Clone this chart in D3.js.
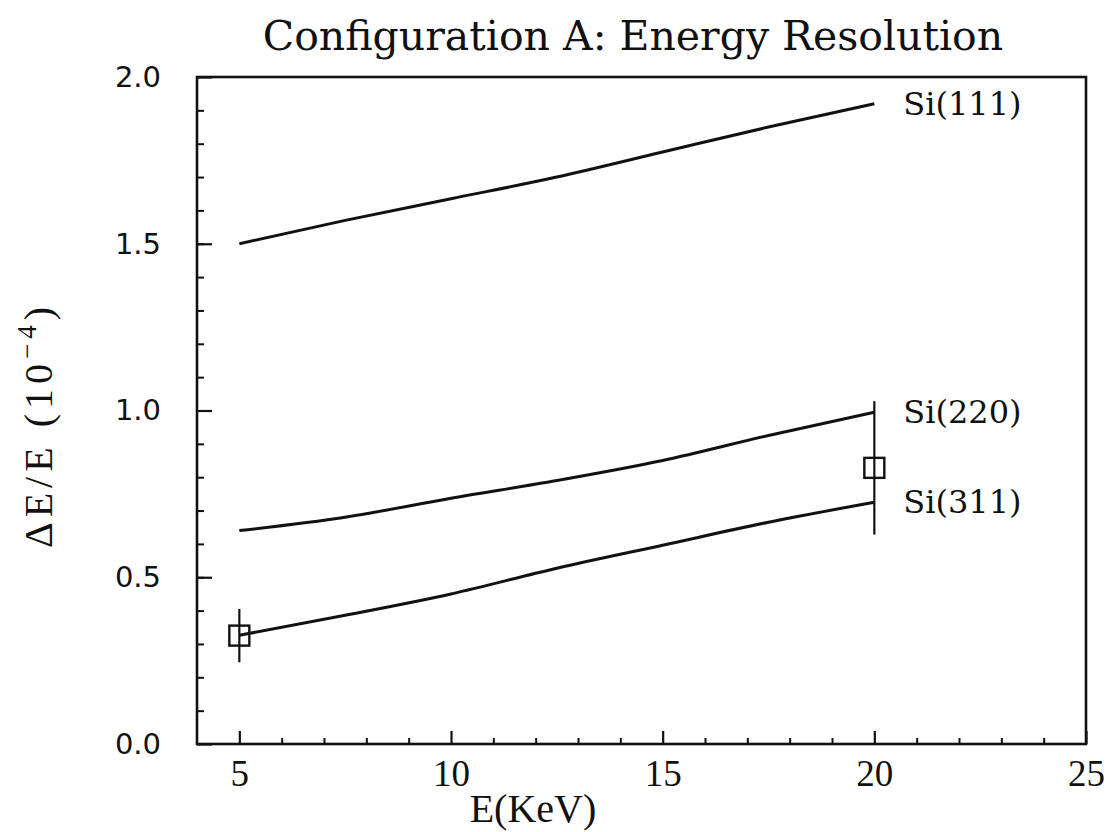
<!DOCTYPE html>
<html>
<head>
<meta charset="utf-8">
<script src="https://cdn.jsdelivr.net/npm/d3@7"></script>
<style>
  body { margin: 0; background: #fff; }
  svg text { fill: #111; }
</style>
</head>
<body>
<div id="chart"></div>
<script>
var energies = [5, 7.5, 10, 12.5, 15, 17.5, 20];
var si111 = [1.50, 1.57, 1.635, 1.70, 1.775, 1.85, 1.92];
var si220 = [0.64, 0.68, 0.737, 0.79, 0.85, 0.925, 0.995];
var si311 = [0.326, 0.386, 0.45, 0.527, 0.596, 0.665, 0.725];
var seriesNames = ["Si(111)", "Si(220)", "Si(311)"];

// measured points with error bars
var measE = [5, 20];
var measRes = [0.325, 0.828];
var measErr = [0.08, 0.2];

var xTicks = [5, 10, 15, 20, 25];
var yTicks = [0.0, 0.5, 1.0, 1.5, 2.0];

var width = 1113, height = 832;

var svg = d3.select("#chart").append("svg")
    .attr("width", width)
    .attr("height", height);

var x = d3.scaleLinear().domain([4, 25]).range([197, 1086]);
var y = d3.scaleLinear().domain([0, 2]).range([744, 77]);

// title
svg.append("text")
    .attr("x", 633)
    .attr("y", 50)
    .attr("text-anchor", "middle")
    .style("font-family", "DejaVu Serif")
    .style("font-size", "41px")
    .text("Configuration A: Energy Resolution");

// minor ticks
svg.append("g")
    .attr("transform", "translate(" + x(4) + ",0)")
    .call(d3.axisLeft(y).tickValues(d3.range(1, 20).map(d => d / 10)).tickSize(-7).tickFormat(""))
    .call(g => g.select(".domain").remove())
    .selectAll("line").attr("stroke", "#111").attr("stroke-width", 2);

svg.append("g")
    .attr("transform", "translate(0," + y(0) + ")")
    .call(d3.axisBottom(x).tickValues(d3.range(5, 25).filter(d => d % 5 != 0)).tickSize(-6).tickFormat(""))
    .call(g => g.select(".domain").remove())
    .selectAll("line").attr("stroke", "#111").attr("stroke-width", 2);

// major ticks + labels
var yAxis = svg.append("g")
    .attr("transform", "translate(" + x(4) + ",0)")
    .call(d3.axisLeft(y).tickValues(yTicks).tickSize(-15).tickPadding(36).tickFormat(d3.format(".1f")))
    .call(g => g.select(".domain").remove());
yAxis.selectAll("line").attr("stroke", "#111").attr("stroke-width", 2.2);
yAxis.selectAll("text")
    .style("font-family", "DejaVu Sans")
    .style("font-size", "29px")
    .attr("fill", "#111");

var xAxis = svg.append("g")
    .attr("transform", "translate(0," + y(0) + ")")
    .call(d3.axisBottom(x).tickValues(xTicks).tickSize(-13).tickPadding(16).tickFormat(d3.format("d")))
    .call(g => g.select(".domain").remove());
xAxis.selectAll("line").attr("stroke", "#111").attr("stroke-width", 2.2);
xAxis.selectAll("text")
    .style("font-family", "Liberation Serif")
    .style("font-size", "37px")
    .attr("fill", "#111");

// frame
svg.append("rect")
    .attr("x", x(4))
    .attr("y", y(2))
    .attr("width", x(25) - x(4))
    .attr("height", y(0) - y(2))
    .attr("fill", "none")
    .attr("stroke", "#111")
    .attr("stroke-width", 2.6);

// axis titles
svg.append("text")
    .attr("x", 533)
    .attr("y", 822)
    .attr("text-anchor", "middle")
    .style("font-family", "Liberation Serif")
    .style("font-size", "40px")
    .text("E(KeV)");

var yTitle = svg.append("text")
    .attr("transform", "translate(52,425) rotate(-90)")
    .attr("text-anchor", "middle")
    .style("font-family", "Liberation Serif")
    .style("font-size", "40px")
    .style("letter-spacing", "5px");
yTitle.append("tspan").text("\u0394E/E (10");
yTitle.append("tspan").attr("dy", -16).style("font-size", "27px").text("\u22124");
yTitle.append("tspan").attr("dy", 16).text(")");

// curves
var line = d3.line()
    .x((d, i) => x(energies[i]))
    .y(d => y(d))
    .curve(d3.curveMonotoneX);

var allSeries = [si111, si220, si311];
svg.selectAll(".curve")
    .data(allSeries)
    .enter().append("path")
    .attr("class", "curve")
    .attr("d", line)
    .attr("fill", "none")
    .attr("stroke", "#111")
    .attr("stroke-width", 3);

svg.selectAll(".slabel")
    .data(allSeries)
    .enter().append("text")
    .attr("class", "slabel")
    .attr("x", x(20) + 29)
    .attr("y", d => y(d[d.length - 1]))
    .attr("dy", "0.35em")
    .style("font-family", "DejaVu Serif")
    .style("font-size", "32px")
    .text((d, i) => seriesNames[i]);

// error bars and square markers
svg.selectAll(".err")
    .data(measE)
    .enter().append("line")
    .attr("class", "err")
    .attr("x1", d => x(d))
    .attr("x2", d => x(d))
    .attr("y1", (d, i) => y(measRes[i] + measErr[i]))
    .attr("y2", (d, i) => y(measRes[i] - measErr[i]))
    .attr("stroke", "#111")
    .attr("stroke-width", 2.2);

svg.selectAll(".mark")
    .data(measE)
    .enter().append("rect")
    .attr("class", "mark")
    .attr("x", d => x(d) - 10)
    .attr("y", (d, i) => y(measRes[i]) - 10)
    .attr("width", 20)
    .attr("height", 20)
    .attr("fill", "none")
    .attr("stroke", "#111")
    .attr("stroke-width", 2.4);
</script>
</body>
</html>
